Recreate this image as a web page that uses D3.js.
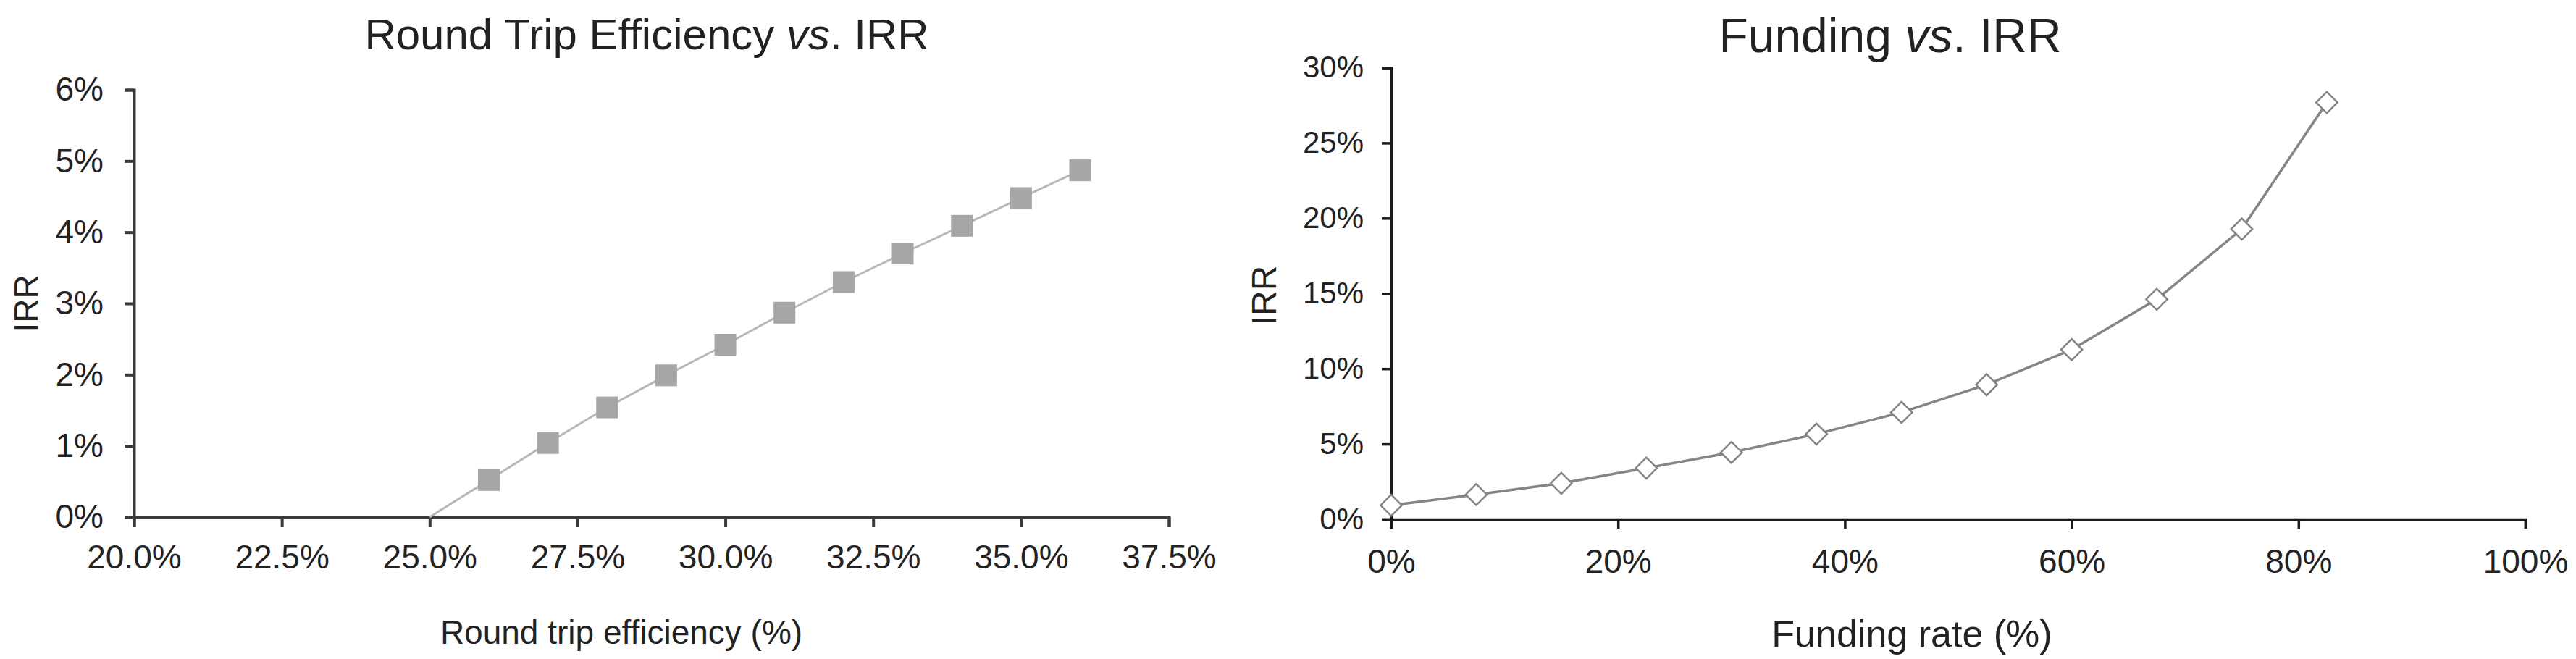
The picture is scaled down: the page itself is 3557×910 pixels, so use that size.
<!DOCTYPE html>
<html>
<head>
<meta charset="utf-8">
<script src="https://cdn.jsdelivr.net/npm/d3@7"></script>
<style>
  body { margin: 0; background: #fff; }
  text { font-family: "Liberation Sans", Arial, sans-serif; fill: #222; }
</style>
</head>
<body>
<script>
// Round trip efficiency vs IRR
var rteX = [0.25, 0.26, 0.27, 0.28, 0.29, 0.30, 0.31, 0.32, 0.33, 0.34, 0.35, 0.36];
var rteIrr = [0, 0.0052, 0.0104, 0.0154, 0.0199, 0.0242, 0.0287, 0.0330, 0.0370, 0.0409, 0.0448, 0.0487];
var rteXTicks = [0.2, 0.225, 0.25, 0.275, 0.3, 0.325, 0.35, 0.375];
var rteYTicks = [0, 0.01, 0.02, 0.03, 0.04, 0.05, 0.06];

// Funding rate vs IRR
var fundX = [0, 0.075, 0.15, 0.225, 0.30, 0.375, 0.45, 0.525, 0.60, 0.675, 0.75, 0.825];
var fundIrr = [0.0093, 0.0164, 0.0239, 0.0340, 0.0444, 0.0566, 0.0710, 0.0894, 0.1127, 0.1461, 0.1928, 0.2769];
var fundXTicks = [0, 0.2, 0.4, 0.6, 0.8, 1.0];
var fundYTicks = [0, 0.05, 0.10, 0.15, 0.20, 0.25, 0.30];

var svg = d3.select("body").append("svg")
    .attr("width", 3557)
    .attr("height", 910);

// ---- left chart ----
var x1 = d3.scaleLinear().domain([0.2, 0.375]).range([185, 1614]);
var y1 = d3.scaleLinear().domain([0, 0.06]).range([714, 124]);

svg.append("g")
    .attr("transform", "translate(0,714)")
    .call(d3.axisBottom(x1).tickValues(rteXTicks).tickFormat(d3.format(".1%"))
        .tickSize(14).tickPadding(24))
    .call(styleAxis, 46, 4, "#3a3a3a");

svg.append("g")
    .attr("transform", "translate(185,0)")
    .call(d3.axisLeft(y1).tickValues(rteYTicks).tickFormat(d3.format(".0%"))
        .tickSize(13).tickPadding(29))
    .call(styleAxis, 46, 4, "#3a3a3a");

var rte = rteX.map(function(d, i) { return {x: d, y: rteIrr[i]}; });

svg.append("path")
    .datum(rte)
    .attr("fill", "none")
    .attr("stroke", "#b8b8b8")
    .attr("stroke-width", 3)
    .attr("d", d3.line()
        .x(function(d) { return x1(d.x); })
        .y(function(d) { return y1(d.y); }));

svg.selectAll(".sq")
    .data(rte.filter(function(d) { return d.y > 0; }))
    .enter().append("rect")
    .attr("class", "sq")
    .attr("x", function(d) { return x1(d.x) - 15; })
    .attr("y", function(d) { return y1(d.y) - 15; })
    .attr("width", 30)
    .attr("height", 30)
    .attr("fill", "#a6a6a6");

svg.append("text")
    .attr("x", 893).attr("y", 68)
    .attr("text-anchor", "middle")
    .style("font-size", "60px")
    .html("Round Trip Efficiency <tspan font-style='italic'>vs</tspan>. IRR");

svg.append("text")
    .attr("x", 858).attr("y", 889)
    .attr("text-anchor", "middle")
    .style("font-size", "46px")
    .text("Round trip efficiency (%)");

svg.append("text")
    .attr("transform", "translate(52,419) rotate(-90)")
    .attr("text-anchor", "middle")
    .style("font-size", "46px")
    .text("IRR");

// ---- right chart ----
var x2 = d3.scaleLinear().domain([0, 1]).range([1921, 3487]);
var y2 = d3.scaleLinear().domain([0, 0.3]).range([717, 93.5]);

svg.append("g")
    .attr("transform", "translate(0,717)")
    .call(d3.axisBottom(x2).tickValues(fundXTicks).tickFormat(d3.format(".0%"))
        .tickSize(13).tickPadding(28))
    .call(styleAxis, 46, 3.5, "#1a1a1a");

svg.append("g")
    .attr("transform", "translate(1921,0)")
    .call(d3.axisLeft(y2).tickValues(fundYTicks).tickFormat(d3.format(".0%"))
        .tickSize(13).tickPadding(25))
    .call(styleAxis, 42, 3.5, "#1a1a1a");

var fund = fundX.map(function(d, i) { return {x: d, y: fundIrr[i]}; });

svg.append("path")
    .datum(fund)
    .attr("fill", "none")
    .attr("stroke", "#858585")
    .attr("stroke-width", 3.5)
    .attr("d", d3.line()
        .x(function(d) { return x2(d.x); })
        .y(function(d) { return y2(d.y); }));

svg.selectAll(".dm")
    .data(fund)
    .enter().append("path")
    .attr("class", "dm")
    .attr("transform", function(d) {
        return "translate(" + x2(d.x) + "," + y2(d.y) + ") rotate(45)";
    })
    .attr("d", d3.symbol().type(d3.symbolSquare).size(430))
    .attr("fill", "#fff")
    .attr("stroke", "#858585")
    .attr("stroke-width", 2.5);

svg.append("text")
    .attr("x", 2610).attr("y", 72)
    .attr("text-anchor", "middle")
    .style("font-size", "66px")
    .html("Funding <tspan font-style='italic'>vs</tspan>. IRR");

svg.append("text")
    .attr("x", 2640).attr("y", 893)
    .attr("text-anchor", "middle")
    .style("font-size", "52px")
    .text("Funding rate (%)");

svg.append("text")
    .attr("transform", "translate(1762,408) rotate(-90)")
    .attr("text-anchor", "middle")
    .style("font-size", "48px")
    .text("IRR");

function styleAxis(g, fontSize, width, color) {
    g.select(".domain").attr("stroke", color).attr("stroke-width", width);
    g.selectAll(".tick line").attr("stroke", color).attr("stroke-width", width);
    g.selectAll(".tick text")
        .attr("fill", "#222")
        .style("font-size", fontSize + "px")
        .style("font-family", "'Liberation Sans', Arial, sans-serif");
}
</script>
</body>
</html>
